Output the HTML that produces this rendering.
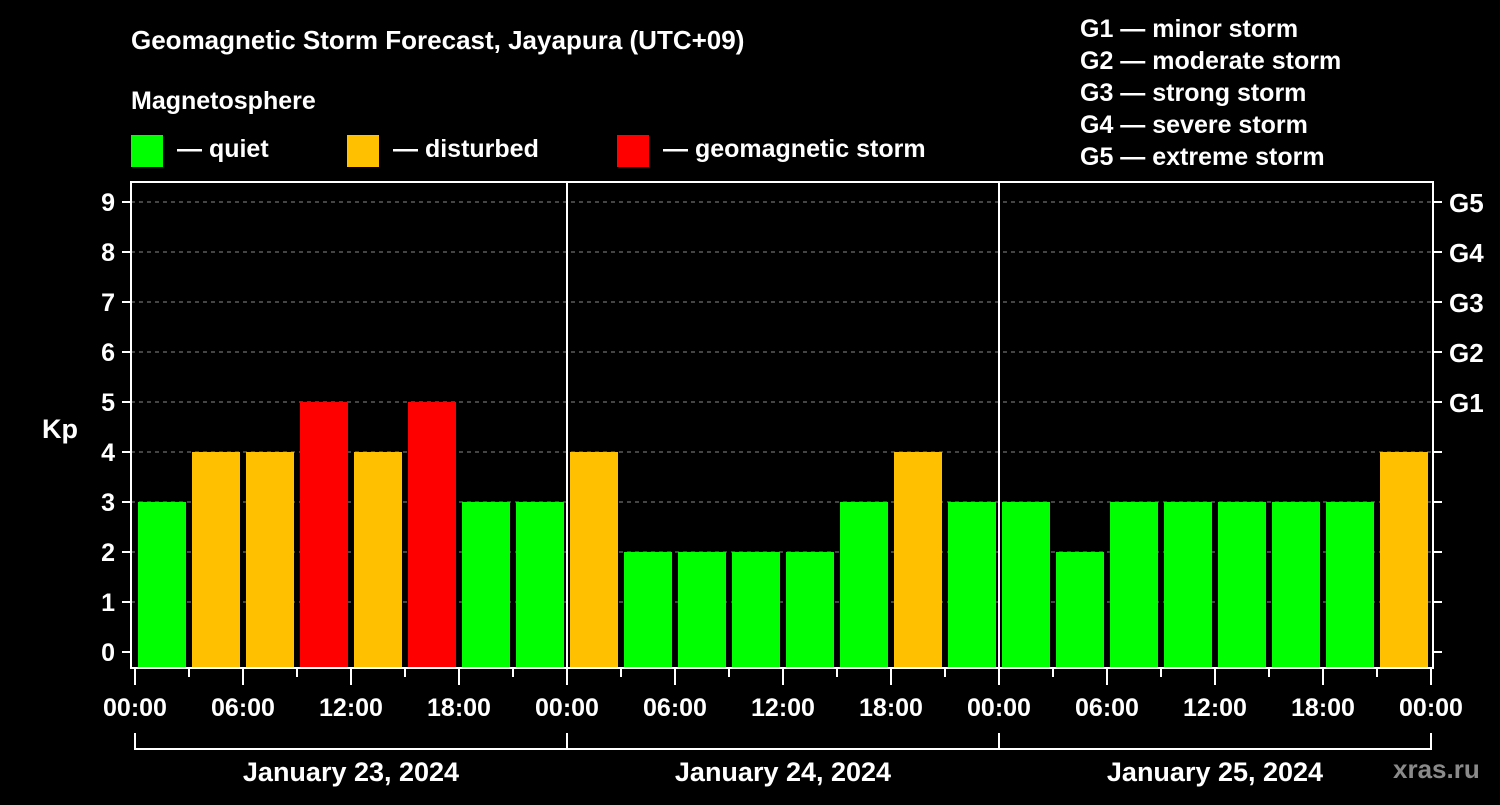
<!DOCTYPE html>
<html><head><meta charset="utf-8"><style>
body{margin:0;background:#000;width:1500px;height:800px;overflow:hidden;font-family:"Liberation Sans",sans-serif}
svg text{font-family:"Liberation Sans",sans-serif;font-weight:bold;fill:#fff}
</style></head><body>
<svg id="c" width="1500" height="800">
<text x="131" y="49" font-size="26">Geomagnetic Storm Forecast, Jayapura (UTC+09)</text>
<text x="131" y="109" font-size="25">Magnetosphere</text>
<g><rect x="131" y="135" width="32" height="32" fill="#00ff00"/><text x="177" y="157" font-size="25">— quiet</text></g>
<g><rect x="347" y="135" width="32" height="32" fill="#ffc000"/><text x="393" y="157" font-size="25">— disturbed</text></g>
<g><rect x="617" y="135" width="32" height="32" fill="#ff0000"/><text x="663" y="157" font-size="25">— geomagnetic storm</text></g>
<g font-size="25">
<text x="1080" y="37">G1 — minor storm</text><text x="1080" y="69">G2 — moderate storm</text><text x="1080" y="101">G3 — strong storm</text><text x="1080" y="133">G4 — severe storm</text><text x="1080" y="165">G5 — extreme storm</text>
</g>
<text x="42" y="438" font-size="27">Kp</text>
<text x="1393" y="778" font-size="26" fill="#888" style="fill:#8a8a8a">xras.ru</text>
<g id="grid"></g><g id="bars"></g><g id="axes"></g>
</svg>
<script>
const kpValues=[3,4,4,5,4,5,3,3, 4,2,2,2,2,3,4,3, 3,2,3,3,3,3,3,4];
const dayLabels=["January 23, 2024","January 24, 2024","January 25, 2024"];
const timeLabels=["00:00","06:00","12:00","18:00"];
const yTicks=[0,1,2,3,4,5,6,7,8,9];
const gLabels=[[5,"G1"],[6,"G2"],[7,"G3"],[8,"G4"],[9,"G5"]];
const NS="http://www.w3.org/2000/svg";
const X0=135,DAY=432,SLOT=54,PL=131,PR=1433,PT=182,PB=668;
const yS=v=>652-50*v;
const xS=i=>X0+SLOT*i;
function mk(p,t,a,txt){const e=document.createElementNS(NS,t);for(const k in a)e.setAttribute(k,a[k]);if(txt!=null)e.textContent=txt;document.getElementById(p).appendChild(e);return e;}
const col=v=>v>=5?"#ff0000":v>=4?"#ffc000":"#00ff00";
yTicks.forEach(v=>{if(v>0){const l=mk("grid","line",{x1:PL,x2:PR,y1:yS(v),y2:yS(v),stroke:"#888","stroke-dasharray":"4,4","stroke-width":1});

}});
kpValues.forEach((v,i)=>{const r=mk("bars","rect",{x:xS(i)+3,y:yS(v),width:48,height:PB-yS(v),fill:col(v)});

});
mk("axes","rect",{x:PL,y:PT,width:PR-PL,height:PB-PT,fill:"none",stroke:"#fff","stroke-width":2});
for(let d=1;d<dayLabels.length;d++){const l=mk("axes","line",{x1:X0+DAY*d,x2:X0+DAY*d,y1:PT,y2:PB,stroke:"#fff","stroke-width":2});

}
yTicks.forEach(v=>{mk("axes","line",{x1:122,x2:PL,y1:yS(v),y2:yS(v),stroke:"#fff","stroke-width":2});
mk("axes","line",{x1:PR,x2:1442,y1:yS(v),y2:yS(v),stroke:"#fff","stroke-width":2});
const t=mk("axes","text",{x:115,y:yS(v)+9,"font-size":25,"text-anchor":"end"},String(v));

});
gLabels.forEach(g=>{const t=mk("axes","text",{x:1449,y:yS(g[0])+10,"font-size":26},g[1]);

});
for(let i=0;i<=kpValues.length;i++){const major=i%2==0;mk("axes","line",{x1:xS(i),x2:xS(i),y1:PB,y2:major?685:677,stroke:"#fff","stroke-width":2});
if(major){const t=mk("axes","text",{x:xS(i),y:716,"font-size":25,"text-anchor":"middle"},timeLabels[(i/2)%4]);

}}
mk("axes","line",{x1:X0,x2:X0+DAY*dayLabels.length,y1:749,y2:749,stroke:"#fff","stroke-width":2});
dayLabels.forEach((d,k)=>{mk("axes","line",{x1:X0+DAY*k,x2:X0+DAY*k,y1:733,y2:750,stroke:"#fff","stroke-width":2});
const t=mk("axes","text",{x:X0+DAY*k+DAY/2,y:781,"font-size":27,"text-anchor":"middle"},d);

});
mk("axes","line",{x1:X0+DAY*3,x2:X0+DAY*3,y1:733,y2:750,stroke:"#fff","stroke-width":2});
</script>
</body></html>
